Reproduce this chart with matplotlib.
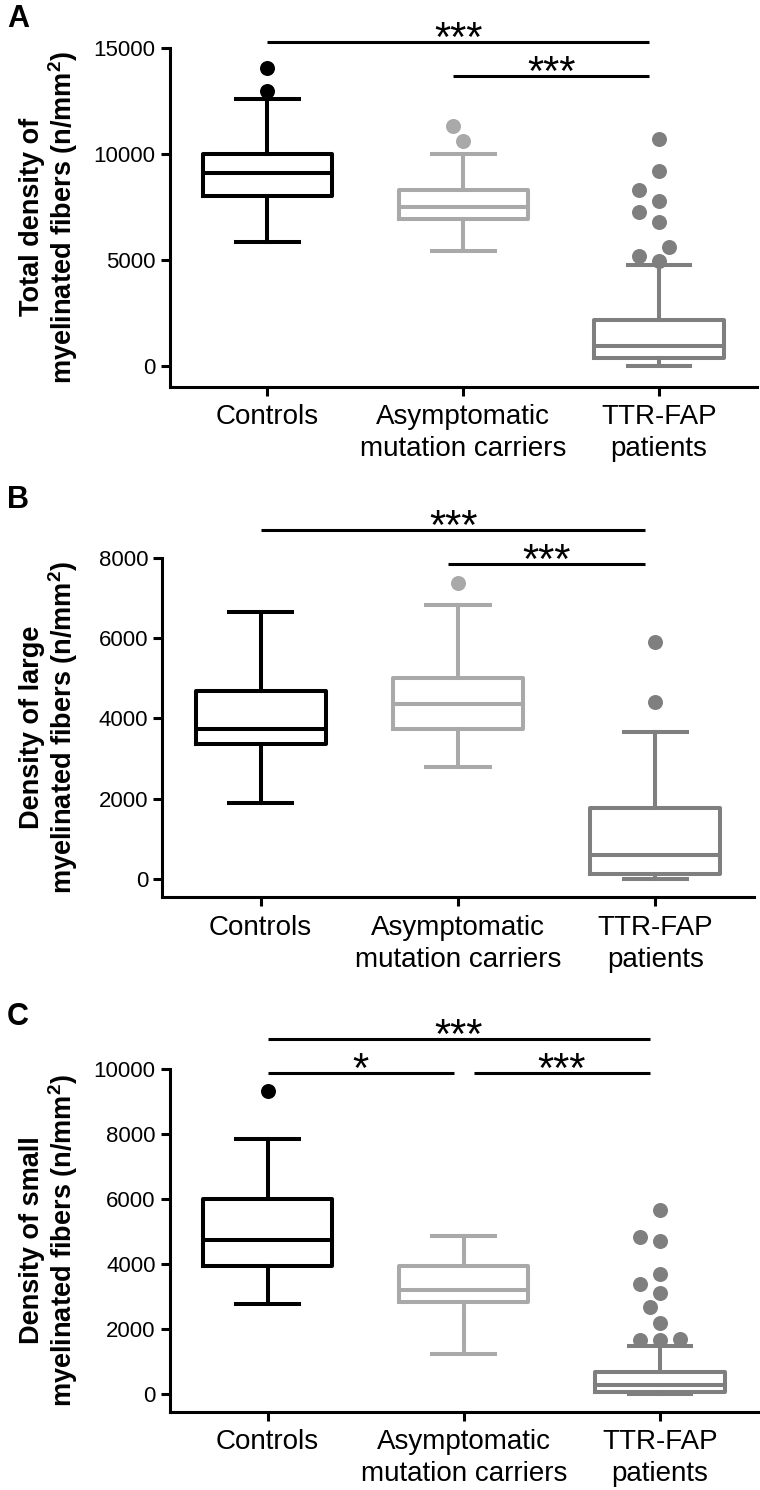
import matplotlib
matplotlib.use('Agg')
import matplotlib.pyplot as plt
import matplotlib.transforms as mtransforms
import numpy as np

plt.rcParams['font.family'] = ['Liberation Sans', 'DejaVu Sans']
plt.rcParams['mathtext.fontset'] = 'custom'
plt.rcParams['mathtext.rm'] = 'Liberation Sans'
plt.rcParams['mathtext.bf'] = 'Liberation Sans:bold'

### data
groups = ['Controls', 'Asymptomatic\nmutation carriers', 'TTR-FAP\npatients']
colors = ['#000000', '#a9a9a9', '#7f7f7f']

# A: total density of myelinated fibers
total_lo = [5820, 5410, 0]
total_q1 = [8000, 6920, 350]
total_med = [9100, 7500, 940]
total_q3 = [9970, 8290, 2150]
total_hi = [12600, 9970, 4750]
total_out = [[14060, 12970], [10600, 11300],
             [10680, 9180, 8290, 7770, 7230, 6790, 5580, 5170, 4910]]
total_ticks = [0, 5000, 10000, 15000]
total_sig = [(0, 2, 15250, '***'), (1, 2, 13660, '***')]

# B: large myelinated fibers
large_lo = [1900, 2800, 0]
large_q1 = [3360, 3730, 140]
large_med = [3750, 4350, 600]
large_q3 = [4680, 5000, 1760]
large_hi = [6640, 6820, 3670]
large_out = [[], [7360], [5910, 4400]]
large_ticks = [0, 2000, 4000, 6000, 8000]
large_sig = [(0, 2, 8690, '***'), (1, 2, 7840, '***')]

# C: small myelinated fibers
small_lo = [2770, 1240, 0]
small_q1 = [3950, 2850, 80]
small_med = [4750, 3210, 290]
small_q3 = [6000, 3950, 700]
small_hi = [7850, 4870, 1490]
small_out = [[9330], [],
             [5670, 4850, 4730, 3720, 3390, 3130, 2700, 2200, 1720, 1670, 1690]]
small_ticks = [0, 2000, 4000, 6000, 8000, 10000]
small_sig = [(0, 2, 10930, '***'), (0, 1, 9900, '*'), (1, 2, 9900, '***')]

W, H = 760, 1490
fig = plt.figure(figsize=(W / 100, H / 100), dpi=100)

def rect(left, top, right, bottom):
    # pixel box -> figure fraction
    return [left / W, 1 - bottom / H, (right - left) / W, (bottom - top) / H]

panels = [
    dict(letter='A', top_px=4, rect=rect(169.5, 47.7, 757, 386.7), ylim=(-1000, 15000),
         lo=total_lo, q1=total_q1, med=total_med, q3=total_q3, hi=total_hi,
         out=total_out, ticks=total_ticks, sig=total_sig,
         ylabel='Total density of\nmyelinated fibers (n/mm$^{\\mathbf{2}}$)'),
    dict(letter='B', top_px=485, rect=rect(162, 557.7, 754, 897.3), ylim=(-450, 8000),
         lo=large_lo, q1=large_q1, med=large_med, q3=large_q3, hi=large_hi,
         out=large_out, ticks=large_ticks, sig=large_sig,
         ylabel='Density of large\nmyelinated fibers (n/mm$^{\\mathbf{2}}$)'),
    dict(letter='C', top_px=1002, rect=rect(169.5, 1069.3, 758, 1411.7), ylim=(-530, 10000),
         lo=small_lo, q1=small_q1, med=small_med, q3=small_q3, hi=small_hi,
         out=small_out, ticks=small_ticks, sig=small_sig,
         ylabel='Density of small\nmyelinated fibers (n/mm$^{\\mathbf{2}}$)'),
]

LW = 2.9      # box lines, pt
SPINE = 2.2
DOT = 15      # outlier diameter, px

def swarm(ax, x0, values, diam=DOT, step=10):
    # spread outliers sideways so that dots do not overlap (pixel space)
    placed = []
    xs = [x0] * len(values)
    for i in np.argsort(values):
        px, py = ax.transData.transform((x0, values[i]))
        for k in [0, -1, 1, -2, 2, -3, 3, -4, 4]:
            cx = px + k * step
            if all(np.hypot(cx - qx, py - qy) >= 1.1 * diam for qx, qy in placed):
                break
        placed.append((cx, py))
        xs[i] = ax.transData.inverted().transform((cx, py))[0]
    return xs

for p in panels:
    ax = fig.add_axes(p['rect'])
    ax.set_xlim(0.5, 3.5)
    ax.set_ylim(*p['ylim'])

    for k in range(3):
        stats = dict(med=p['med'][k], q1=p['q1'][k], q3=p['q3'][k],
                     whislo=p['lo'][k], whishi=p['hi'][k], fliers=[])
        c = colors[k]
        ax.bxp([stats], positions=[k + 1], widths=0.66, capwidths=0.32,
               showfliers=False, manage_ticks=False,
               boxprops=dict(color=c, lw=LW),
               medianprops=dict(color=c, lw=LW),
               whiskerprops=dict(color=c, lw=LW),
               capprops=dict(color=c, lw=LW))
        if p['out'][k]:
            xs = swarm(ax, k + 1, p['out'][k])
            ax.plot(xs, p['out'][k], 'o', ms=DOT * 0.72, color=c, mec='none', clip_on=False)

    # significance bars
    gap = 0.05
    for i, j, level, label in p['sig']:
        joined = any(jj == i and lv == level for ii, jj, lv, _ in p['sig'])
        x1 = i + 1 if i == 0 else (i + 1 + gap if joined else i + 1 - gap)
        x2 = j + 1 - gap
        ax.plot([x1, x2], [level, level], color='black', lw=SPINE, clip_on=False,
                solid_capstyle='butt')
        ax.annotate(label, xy=((x1 + x2) / 2, level), xytext=(0, -6.5),
                    textcoords='offset points', ha='center', va='baseline',
                    fontsize=30, annotation_clip=False)

    for s in ['top', 'right']:
        ax.spines[s].set_visible(False)
    for s in ['left', 'bottom']:
        ax.spines[s].set_linewidth(SPINE)
    ax.set_yticks(p['ticks'])
    ax.set_yticklabels([str(t) for t in p['ticks']])
    ax.set_xticks([1, 2, 3])
    ax.set_xticklabels(groups, fontsize=20, linespacing=1.3)
    ax.tick_params(width=SPINE, length=6.5, labelsize=16, pad=3.5)
    ax.tick_params(axis='x', labelsize=20, pad=6)

    ax.set_ylabel(p['ylabel'], fontsize=19.5, fontweight='bold', linespacing=1.05)
    trans = mtransforms.blended_transform_factory(fig.transFigure, ax.transAxes)
    ax.yaxis.set_label_coords(80 / W, 0.5, transform=trans)

    fig.text(7 / W, 1 - p['top_px'] / H, p['letter'], fontsize=22, fontweight='bold', va='top')

fig.savefig('out.png', dpi=100)
